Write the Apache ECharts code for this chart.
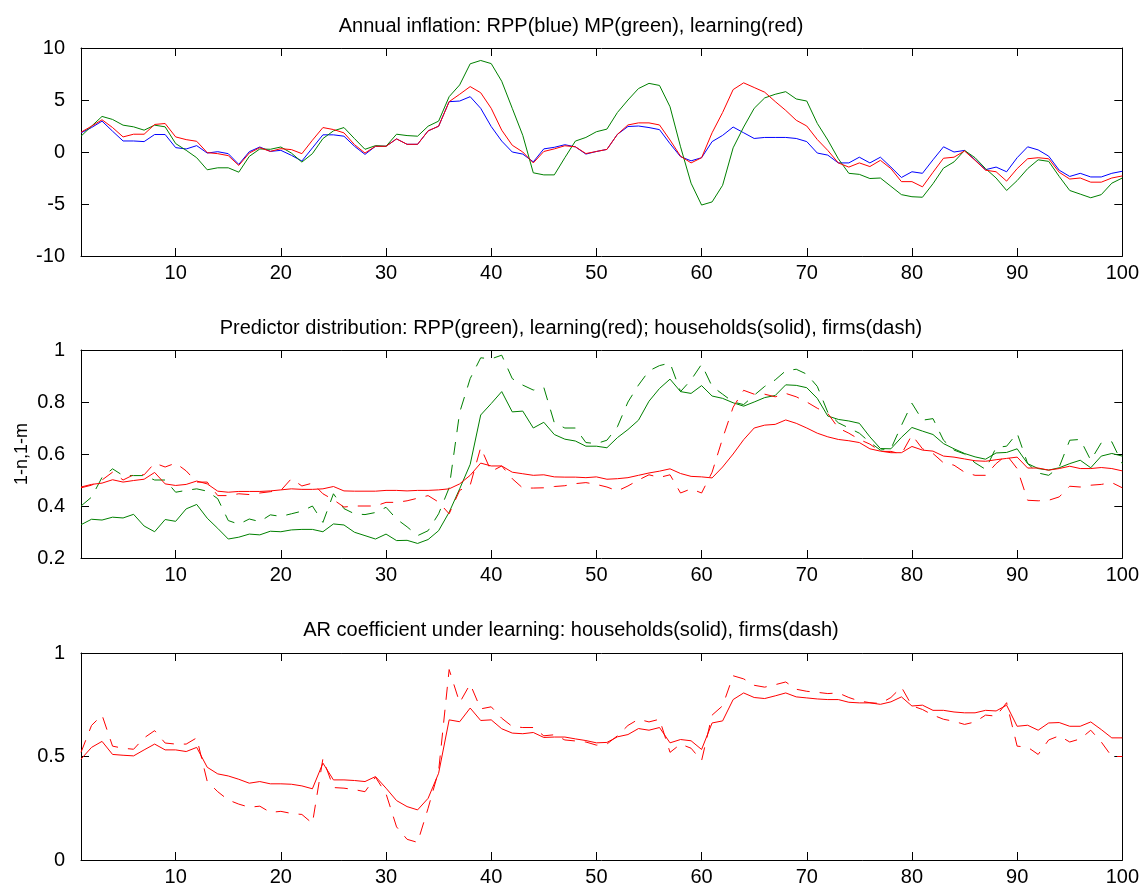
<!DOCTYPE html>
<html><head><meta charset="utf-8">
<script src="https://cdn.jsdelivr.net/npm/echarts@6/dist/echarts.min.js"></script>
<style>html,body{margin:0;padding:0;background:#fff}#c{width:1142px;height:890px}</style>
</head><body><div id="c"></div>
<script>
// ---------- data ----------
const periods = Array.from({length: 100}, (_, k) => k + 1);
const xTickValues = [10, 20, 30, 40, 50, 60, 70, 80, 90, 100];

const titles = [
  'Annual inflation: RPP(blue) MP(green), learning(red)',
  'Predictor distribution: RPP(green), learning(red); households(solid), firms(dash)',
  'AR coefficient under learning: households(solid), firms(dash)'
];
const yName2 = '1-n,1-m';

// Panel 1: annual inflation
const inflRPP = [1.84,2.35,2.97,2.0,1.06,1.06,1.0,1.68,1.68,0.42,
  0.29,0.61,-0.1,0.03,-0.16,-1.19,0.03,0.48,0.06,0.16,
  -0.32,-0.87,0.39,1.65,1.65,1.52,0.55,-0.23,0.55,0.55,
  1.26,0.74,0.74,2.03,2.48,4.84,4.9,5.32,4.2,2.45,
  1.05,0.0,-0.2,-0.95,0.3,0.45,0.7,0.5,-0.2,0.05,
  0.25,1.7,2.45,2.5,2.35,2.15,0.8,-0.45,-0.85,-0.55,
  1.0,1.6,2.4,1.85,1.3,1.4,1.4,1.4,1.3,1.0,
  -0.1,-0.3,-1.05,-1.05,-0.5,-1.05,-0.5,-1.45,-2.45,-1.9,
  -2.05,-0.75,0.5,0.0,0.15,-0.75,-1.7,-1.45,-1.9,-0.55,
  0.5,0.2,-0.4,-1.75,-2.35,-2.05,-2.4,-2.4,-2.05,-1.85];
const inflMP = [1.52,2.48,3.42,3.13,2.58,2.42,2.1,2.58,2.42,0.81,
  0.16,-0.55,-1.71,-1.52,-1.52,-1.94,-0.42,0.29,0.26,0.48,
  -0.1,-0.97,-0.16,1.29,2.03,2.35,1.29,0.26,0.61,0.55,
  1.71,1.58,1.52,2.48,2.97,5.32,6.45,8.48,8.8,8.5,
  6.8,4.2,1.6,-2.0,-2.2,-2.2,-0.55,1.05,1.4,1.95,
  2.2,3.8,5.0,6.1,6.6,6.4,4.35,0.5,-3.0,-5.1,
  -4.8,-3.2,0.4,2.4,4.2,5.2,5.55,5.8,5.1,4.9,
  2.75,1.15,-0.65,-2.05,-2.15,-2.55,-2.5,-3.3,-4.1,-4.3,
  -4.35,-3.05,-1.55,-0.95,0.15,-0.55,-1.6,-2.5,-3.7,-2.75,
  -1.6,-0.75,-0.9,-2.35,-3.7,-4.05,-4.4,-4.1,-3.0,-2.5];
const inflLearn = [1.9,2.48,3.1,2.35,1.45,1.71,1.71,2.65,2.74,1.45,
  1.19,1.03,-0.06,-0.16,-0.35,-1.29,-0.1,0.42,0.06,0.32,
  0.23,-0.16,1.13,2.35,2.16,1.84,0.71,-0.1,0.55,0.55,
  1.26,0.74,0.74,2.03,2.48,4.84,5.55,6.29,5.7,4.2,
  2.1,0.65,0.0,-1.05,0.05,0.3,0.6,0.5,-0.15,0.05,
  0.25,1.7,2.6,2.8,2.8,2.6,1.15,-0.4,-1.05,-0.55,
  1.85,3.8,6.0,6.65,6.2,5.75,4.85,4.0,3.05,2.5,
  1.2,0.15,-1.05,-1.45,-1.05,-1.4,-0.8,-1.6,-2.85,-2.85,
  -3.35,-1.95,-0.6,-0.5,0.1,-0.8,-1.75,-1.9,-2.8,-1.6,
  -0.65,-0.55,-0.65,-1.95,-2.6,-2.5,-2.9,-2.9,-2.5,-2.3];

// Panel 2: predictor distribution
const predRPPHouse = [0.328,0.349,0.346,0.357,0.354,0.368,0.323,0.301,0.348,0.341,
  0.389,0.406,0.353,0.314,0.273,0.280,0.292,0.289,0.303,0.301,
  0.308,0.310,0.310,0.301,0.331,0.327,0.299,0.286,0.273,0.292,
  0.267,0.268,0.256,0.271,0.305,0.376,0.466,0.56,0.75,0.794,
  0.84,0.762,0.765,0.70,0.722,0.675,0.657,0.65,0.63,0.63,
  0.624,0.663,0.694,0.73,0.803,0.852,0.888,0.84,0.833,0.863,
  0.823,0.814,0.797,0.784,0.80,0.817,0.825,0.866,0.864,0.855,
  0.814,0.746,0.733,0.727,0.718,0.666,0.621,0.62,0.664,0.702,
  0.688,0.675,0.64,0.62,0.602,0.589,0.58,0.604,0.606,0.62,
  0.563,0.544,0.538,0.547,0.563,0.576,0.547,0.592,0.602,0.592];
const predRPPFirm = [0.40,0.434,0.51,0.543,0.517,0.517,0.517,0.50,0.50,0.453,
  0.46,0.466,0.457,0.428,0.344,0.33,0.35,0.34,0.366,0.36,
  0.37,0.38,0.40,0.337,0.447,0.39,0.37,0.367,0.375,0.395,
  0.35,0.32,0.286,0.305,0.37,0.47,0.76,0.89,0.97,0.966,
  0.98,0.89,0.865,0.846,0.856,0.72,0.70,0.70,0.644,0.64,
  0.653,0.705,0.80,0.865,0.92,0.94,0.95,0.84,0.885,0.945,
  0.86,0.83,0.80,0.79,0.826,0.86,0.885,0.92,0.926,0.907,
  0.86,0.76,0.72,0.70,0.68,0.645,0.615,0.62,0.71,0.795,
  0.73,0.736,0.653,0.615,0.60,0.566,0.541,0.625,0.63,0.68,
  0.563,0.527,0.518,0.55,0.653,0.656,0.576,0.643,0.647,0.563];
const predLearnHouse = [0.473,0.483,0.488,0.501,0.492,0.498,0.503,0.529,0.485,0.479,
  0.483,0.496,0.485,0.457,0.453,0.456,0.456,0.456,0.458,0.462,
  0.466,0.464,0.464,0.466,0.475,0.458,0.457,0.457,0.457,0.46,
  0.46,0.458,0.46,0.46,0.462,0.466,0.485,0.518,0.565,0.554,
  0.554,0.53,0.524,0.518,0.52,0.512,0.511,0.511,0.509,0.512,
  0.503,0.505,0.509,0.518,0.527,0.534,0.543,0.525,0.514,0.512,
  0.508,0.55,0.60,0.655,0.70,0.711,0.714,0.731,0.718,0.70,
  0.68,0.666,0.656,0.651,0.644,0.62,0.611,0.605,0.605,0.629,
  0.615,0.611,0.592,0.588,0.581,0.574,0.572,0.578,0.583,0.588,
  0.546,0.546,0.538,0.544,0.553,0.544,0.544,0.548,0.544,0.535];
const predLearnFirm = [0.47,0.48,0.50,0.53,0.50,0.52,0.52,0.565,0.55,0.565,
  0.535,0.492,0.492,0.44,0.44,0.447,0.444,0.45,0.455,0.46,
  0.505,0.477,0.488,0.447,0.424,0.396,0.40,0.40,0.40,0.414,
  0.414,0.42,0.43,0.44,0.415,0.37,0.46,0.48,0.625,0.533,
  0.554,0.505,0.469,0.469,0.47,0.475,0.478,0.486,0.49,0.483,
  0.473,0.458,0.477,0.50,0.52,0.51,0.52,0.45,0.466,0.45,
  0.53,0.66,0.78,0.845,0.83,0.83,0.82,0.833,0.82,0.80,
  0.776,0.756,0.70,0.68,0.656,0.638,0.61,0.61,0.60,0.673,
  0.62,0.602,0.566,0.557,0.53,0.518,0.518,0.563,0.596,0.544,
  0.422,0.42,0.422,0.435,0.476,0.473,0.48,0.483,0.49,0.47];

// Panel 3: AR coefficient under learning
const arHouse = [0.487,0.544,0.573,0.51,0.506,0.503,0.532,0.56,0.532,0.532,
  0.524,0.544,0.448,0.416,0.406,0.39,0.371,0.379,0.368,0.368,
  0.366,0.358,0.344,0.468,0.387,0.387,0.384,0.379,0.403,0.347,
  0.287,0.258,0.242,0.298,0.419,0.677,0.668,0.734,0.674,0.677,
  0.634,0.613,0.61,0.616,0.592,0.594,0.594,0.585,0.577,0.566,
  0.568,0.595,0.606,0.635,0.627,0.64,0.566,0.582,0.576,0.534,
  0.662,0.672,0.775,0.807,0.785,0.78,0.793,0.807,0.788,0.783,
  0.778,0.775,0.775,0.762,0.759,0.759,0.752,0.764,0.788,0.744,
  0.748,0.723,0.723,0.715,0.711,0.711,0.723,0.72,0.748,0.646,
  0.651,0.627,0.662,0.664,0.646,0.646,0.667,0.63,0.59,0.59];
const arFirm = [0.52,0.65,0.70,0.55,0.54,0.535,0.59,0.625,0.565,0.56,
  0.56,0.59,0.38,0.33,0.29,0.27,0.255,0.26,0.23,0.235,
  0.225,0.22,0.177,0.49,0.35,0.347,0.34,0.33,0.40,0.32,
  0.16,0.10,0.085,0.25,0.43,0.92,0.76,0.85,0.73,0.74,
  0.685,0.645,0.64,0.64,0.60,0.605,0.58,0.575,0.57,0.555,
  0.56,0.60,0.65,0.68,0.667,0.68,0.52,0.56,0.54,0.48,
  0.70,0.745,0.89,0.875,0.844,0.835,0.847,0.86,0.825,0.815,
  0.81,0.804,0.807,0.785,0.768,0.76,0.756,0.785,0.835,0.745,
  0.727,0.70,0.68,0.67,0.655,0.667,0.70,0.695,0.76,0.55,
  0.545,0.51,0.58,0.60,0.57,0.585,0.627,0.57,0.50,0.50];

// y-axis ranges per panel
const yRanges = [
  {min: -10, max: 10, interval: 5},
  {min: 0.2, max: 1, interval: 0.2},
  {min: 0, max: 1, interval: 0.5}
];

// ---------- chart ----------
const FONT = '"Liberation Sans", Arial, Helvetica, sans-serif';
const BLUE = '#0000ff', GREEN = '#008000', RED = '#ff0000';
const DASH = [13, 10];
const gridTops = [48, 350, 653];
const gridHeights = [208, 208, 207];
const titleY = [11, 313, 615];

const grid = [], xAxis = [], yAxis = [], title = [];
for (let k = 0; k < 3; k++) {
  grid.push({left: 81, right: 19, top: gridTops[k], height: gridHeights[k], containLabel: false});
  const axLine = {show: true, onZero: false, lineStyle: {color: '#000', width: 1}};
  xAxis.push({
    type: 'value', gridIndex: k, min: 1, max: 100, position: 'bottom',
    axisLine: axLine,
    axisTick: {show: true, inside: true, length: 8, customValues: xTickValues, lineStyle: {color: '#000'}},
    axisLabel: {show: true, customValues: xTickValues, color: '#000', fontSize: 20, fontFamily: FONT, margin: 7},
    splitLine: {show: false}
  });
  xAxis.push({
    type: 'value', gridIndex: k, min: 1, max: 100, position: 'top',
    axisLine: axLine,
    axisTick: {show: true, inside: true, length: 8, customValues: xTickValues, lineStyle: {color: '#000'}},
    axisLabel: {show: false},
    splitLine: {show: false}
  });
  const yr = yRanges[k];
  yAxis.push({
    type: 'value', gridIndex: k, min: yr.min, max: yr.max, interval: yr.interval, position: 'left',
    axisLine: axLine,
    axisTick: {show: true, inside: true, length: 8, lineStyle: {color: '#000'}},
    axisLabel: {show: true, color: '#000', fontSize: 20, fontFamily: FONT, margin: 16},
    splitLine: {show: false},
    name: k === 1 ? yName2 : '',
    nameLocation: 'middle', nameRotate: 90, nameGap: 50, nameMoveOverlap: false,
    nameTextStyle: {color: '#000', fontSize: 18, fontFamily: FONT}
  });
  yAxis.push({
    type: 'value', gridIndex: k, min: yr.min, max: yr.max, interval: yr.interval, position: 'right',
    axisLine: axLine,
    axisTick: {show: true, inside: true, length: 8, lineStyle: {color: '#000'}},
    axisLabel: {show: false},
    splitLine: {show: false}
  });
  title.push({
    text: titles[k], left: 566, top: titleY[k], textAlign: 'center',
    textStyle: {color: '#000', fontSize: 20, fontWeight: 'normal', fontFamily: FONT}
  });
}

function pts(arr) { return periods.map((p, i) => [p, arr[i]]); }
function line(panel, arr, color, dashed) {
  return {
    type: 'line', xAxisIndex: panel * 2, yAxisIndex: panel * 2,
    data: pts(arr), symbol: 'none', showSymbol: false, clip: true,
    lineStyle: {color: color, width: 1, type: dashed ? DASH : 'solid'},
    emphasis: {disabled: true}, silent: true
  };
}

const series = [
  line(0, inflRPP, BLUE, false),
  line(0, inflMP, GREEN, false),
  line(0, inflLearn, RED, false),
  line(1, predRPPHouse, GREEN, false),
  line(1, predRPPFirm, GREEN, true),
  line(1, predLearnHouse, RED, false),
  line(1, predLearnFirm, RED, true),
  line(2, arHouse, RED, false),
  line(2, arFirm, RED, true)
];

const chart = echarts.init(document.getElementById('c'), null, {renderer: 'canvas'});
chart.setOption({
  animation: false,
  backgroundColor: '#fff',
  title: title, grid: grid, xAxis: xAxis, yAxis: yAxis, series: series,
  tooltip: {show: false}
});
</script>
</body></html>
